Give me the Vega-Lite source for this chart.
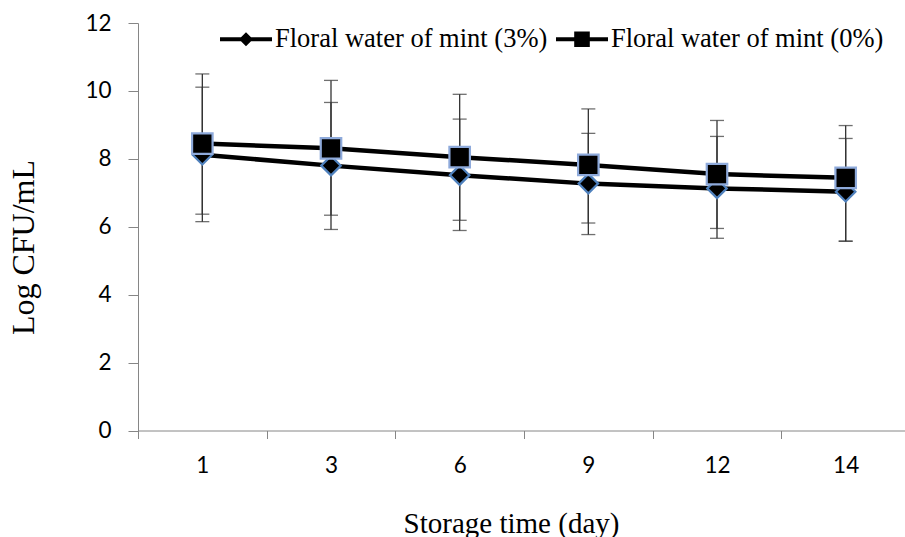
{
  "$schema": "https://vega.github.io/schema/vega-lite/v6.json",
  "width": 772,
  "height": 407.5,
  "autosize": "none",
  "padding": {"left": 138, "top": 23, "right": 0, "bottom": 106.5},
  "background": "white",
  "config": {
    "view": {"stroke": null},
    "axis": {"grid": false, "domainColor": "#868686", "tickColor": "#868686", "labelColor": "#000000", "titleColor": "#000000", "labelFont": "Lato", "labelFontSize": 22.5, "labelFontWeight": "normal", "titleFont": "Liberation Serif", "titleFontSize": 29, "titleFontWeight": "normal"}
  },
  "data": {
    "values": [
      {"day": "1", "series": "Floral water of mint (3%)", "mean": 8.12, "lo": 6.15, "hi": 10.11},
      {"day": "3", "series": "Floral water of mint (3%)", "mean": 7.80, "lo": 5.92, "hi": 9.66},
      {"day": "6", "series": "Floral water of mint (3%)", "mean": 7.52, "lo": 5.89, "hi": 9.17},
      {"day": "9", "series": "Floral water of mint (3%)", "mean": 7.27, "lo": 5.77, "hi": 8.75},
      {"day": "12", "series": "Floral water of mint (3%)", "mean": 7.13, "lo": 5.66, "hi": 8.66},
      {"day": "14", "series": "Floral water of mint (3%)", "mean": 7.03, "lo": 5.57, "hi": 8.60},
      {"day": "1", "series": "Floral water of mint (0%)", "mean": 8.45, "lo": 6.37, "hi": 10.50},
      {"day": "3", "series": "Floral water of mint (0%)", "mean": 8.31, "lo": 6.34, "hi": 10.31},
      {"day": "6", "series": "Floral water of mint (0%)", "mean": 8.05, "lo": 6.19, "hi": 9.90},
      {"day": "9", "series": "Floral water of mint (0%)", "mean": 7.82, "lo": 6.11, "hi": 9.47},
      {"day": "12", "series": "Floral water of mint (0%)", "mean": 7.55, "lo": 5.95, "hi": 9.13},
      {"day": "14", "series": "Floral water of mint (0%)", "mean": 7.44, "lo": 5.58, "hi": 8.98}
    ]
  },
  "encoding": {
    "x": {
      "field": "day", "type": "ordinal", "sort": null,
      "scale": {"type": "band", "paddingInner": 0, "paddingOuter": 0},
      "axis": {"title": "Storage time (day)", "labelAngle": 0, "tickBand": "extent", "tickSize": 8, "labelPadding": 16, "titleX": 373, "titleY": 102, "titleBaseline": "alphabetic", "titleAnchor": "middle", "titleAlign": "center"}
    }
  },
  "layer": [
    {
      "mark": {"type": "rule", "color": "#333333", "strokeWidth": 1.3},
      "encoding": {
        "y": {"field": "lo", "type": "quantitative", "title": "Log CFU/mL", "scale": {"domain": [0, 12], "nice": false, "zero": true}, "axis": {"values": [0, 2, 4, 6, 8, 10, 12], "tickSize": 10, "labelPadding": 17, "titleX": -115, "titleY": 224, "titleAngle": -90, "titleBaseline": "middle", "titleAlign": "center", "titleFontSize": 32}},
        "y2": {"field": "hi"}
      }
    },
    {
      "mark": {"type": "tick", "color": "#333333", "size": 14, "thickness": 1.3},
      "encoding": {"y": {"field": "lo", "type": "quantitative", "title": "Log CFU/mL"}}
    },
    {
      "mark": {"type": "tick", "color": "#333333", "size": 14, "thickness": 1.3},
      "encoding": {"y": {"field": "hi", "type": "quantitative", "title": "Log CFU/mL"}}
    },
    {
      "mark": {"type": "line", "color": "#000000", "strokeWidth": 4.5},
      "encoding": {
        "y": {"field": "mean", "type": "quantitative", "title": "Log CFU/mL"},
        "detail": {"field": "series"}
      }
    },
    {
      "transform": [{"filter": "datum.series == 'Floral water of mint (3%)'"}],
      "mark": {"type": "point", "shape": "diamond", "filled": true, "opacity": 1, "fill": "#000000", "stroke": "#4f81bd", "strokeWidth": 2.2, "size": 380},
      "encoding": {"y": {"field": "mean", "type": "quantitative", "title": "Log CFU/mL"}}
    },
    {
      "transform": [{"filter": "datum.series == 'Floral water of mint (0%)'"}],
      "mark": {"type": "point", "shape": "square", "filled": true, "opacity": 1, "fill": "#000000", "stroke": "#8eaadb", "strokeWidth": 2.2, "size": 420},
      "encoding": {"y": {"field": "mean", "type": "quantitative", "title": "Log CFU/mL"}}
    },
    {
      "mark": {"type": "point", "filled": true, "opacity": 0, "color": "#000000"},
      "encoding": {
        "y": {"field": "mean", "type": "quantitative", "title": "Log CFU/mL"},
        "shape": {
          "field": "series", "type": "nominal", "sort": null,
          "scale": {"domain": ["Floral water of mint (3%)", "Floral water of mint (0%)"], "range": ["M-1,-0.08H1V0.08H-1ZM0,-0.27L0.27,0L0,0.27L-0.27,0Z", "M-1,-0.08H1V0.08H-1ZM-0.3,-0.3H0.3V0.3H-0.3Z"]},
          "legend": {
            "title": null, "orient": "none", "legendX": 82, "legendY": -10, "direction": "horizontal",
            "padding": 0, "symbolSize": 2704, "symbolStrokeWidth": 0, "symbolFillColor": "#000000", "symbolOpacity": 1,
            "labelFont": "Liberation Serif", "labelFontSize": 26.5, "labelColor": "#000000", "labelLimit": 400, "labelOffset": 3, "columnPadding": 8,
            "encode": {"symbols": {"update": {"opacity": {"value": 1}, "fill": {"value": "#000000"}, "fillOpacity": {"value": 1}}}}
          }
        }
      }
    }
  ]
}
